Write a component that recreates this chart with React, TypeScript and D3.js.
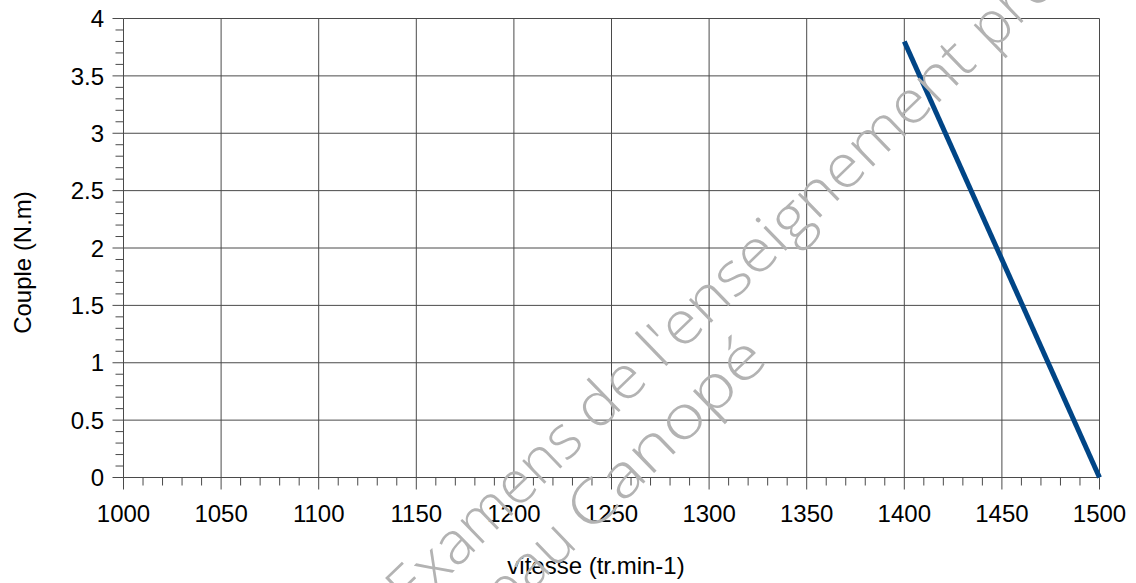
import React from "react";
import * as d3 from "d3";

const speeds = [1400, 1500];
const torques = [3.8, 0];
const xTicks = [1000, 1050, 1100, 1150, 1200, 1250, 1300, 1350, 1400, 1450, 1500];
const yTicks = [0, 0.5, 1, 1.5, 2, 2.5, 3, 3.5, 4];
const xTitle = "vitesse (tr.min-1)";
const yTitle = "Couple (N.m)";
const wmLine1a = "Base Nationale des Sujets d'Examens";
const wmLine1b = "de l'enseignement";
const wmLine1c = "professionnel";
const wmLine2a = "Réseau";
const wmLine2b = "Canopé";

const W = 1136;
const H = 583;

export default function App() {
  const x = d3.scaleLinear().domain([1000, 1500]).range([123.5, 1099.5]);
  const y = d3.scaleLinear().domain([0, 4]).range([477.5, 18.5]);
  const xMinor = d3.range(1000, 1501, 10).filter((v) => v % 50 !== 0);
  const yMinor = d3.range(0, 41, 1).map((v) => v / 10).filter((v) => Math.round(v * 10) % 5 !== 0);
  const pts = speeds.map((s, i) => [s, torques[i]] as [number, number]);
  const line = d3.line<[number, number]>().x((d) => x(d[0])).y((d) => y(d[1]));
  const grid = "#4a4a4a";
  const font = "'Liberation Sans', Arial, sans-serif";
  const ang = -44;
  const wmFont = "'Open Sans', sans-serif";
  const wmColor = "#b3b3b3";
  return (
    <svg width={W} height={H} style={{ position: "absolute", left: 0, top: 0, background: "#fff" }}>
      <rect x={0} y={0} width={W} height={H} fill="#fff" />
      {xTicks.map((t) => (
        <line key={"gx" + t} x1={x(t)} x2={x(t)} y1={y(4)} y2={y(0)} stroke={grid} strokeWidth={1} />
      ))}
      {yTicks.map((t) => (
        <line key={"gy" + t} x1={x(1000)} x2={x(1500)} y1={y(t)} y2={y(t)} stroke={grid} strokeWidth={1} />
      ))}
      {xTicks.map((t) => (
        <line key={"tx" + t} x1={x(t)} x2={x(t)} y1={y(0)} y2={y(0) + 12} stroke={grid} />
      ))}
      {xMinor.map((t) => (
        <line key={"mx" + t} x1={x(t)} x2={x(t)} y1={y(0)} y2={y(0) + 8} stroke={grid} />
      ))}
      {yTicks.map((t) => (
        <line key={"ty" + t} x1={x(1000) - 11} x2={x(1000)} y1={y(t)} y2={y(t)} stroke={grid} />
      ))}
      {yMinor.map((t) => (
        <line key={"my" + t} x1={x(1000) - 8} x2={x(1000)} y1={y(t)} y2={y(t)} stroke={grid} />
      ))}
      {xTicks.map((t) => (
        <text key={"lx" + t} x={x(t)} y={522} textAnchor="middle" fontFamily={font} fontSize={24} fill="#000">
          {t}
        </text>
      ))}
      {yTicks.map((t) => (
        <text key={"ly" + t} x={104} y={y(t)} dy="0.36em" textAnchor="end" fontFamily={font} fontSize={24} fill="#000">
          {t}
        </text>
      ))}
      <path d={line(pts) || ""} fill="none" stroke="#004586" strokeWidth={5} />
      <text x={596} y={574} textAnchor="middle" fontFamily={font} fontSize={24} fill="#000">
        {xTitle}
      </text>
      <text transform="translate(30.5,262.5) rotate(-90)" textAnchor="middle" fontFamily={font} fontSize={24} fill="#000">
        {yTitle}
      </text>
      <g fill={wmColor} fontFamily={wmFont} fontWeight={300} fontSize={60}>
        <g transform={`translate(597,433) rotate(${ang})`}>
          <text x={-15} y={0} textAnchor="end">{wmLine1a}</text>
          <text x={0} y={0} textLength={530} lengthAdjust="spacingAndGlyphs">{wmLine1b}</text>
          <text x={549} y={0}>{wmLine1c}</text>
        </g>
        <g transform={`translate(590,535) rotate(${ang})`}>
          <text x={-15} y={0} textAnchor="end">{wmLine2a}</text>
          <text x={0} y={0} textLength={250} lengthAdjust="spacingAndGlyphs">{wmLine2b}</text>
        </g>
      </g>
    </svg>
  );
}
